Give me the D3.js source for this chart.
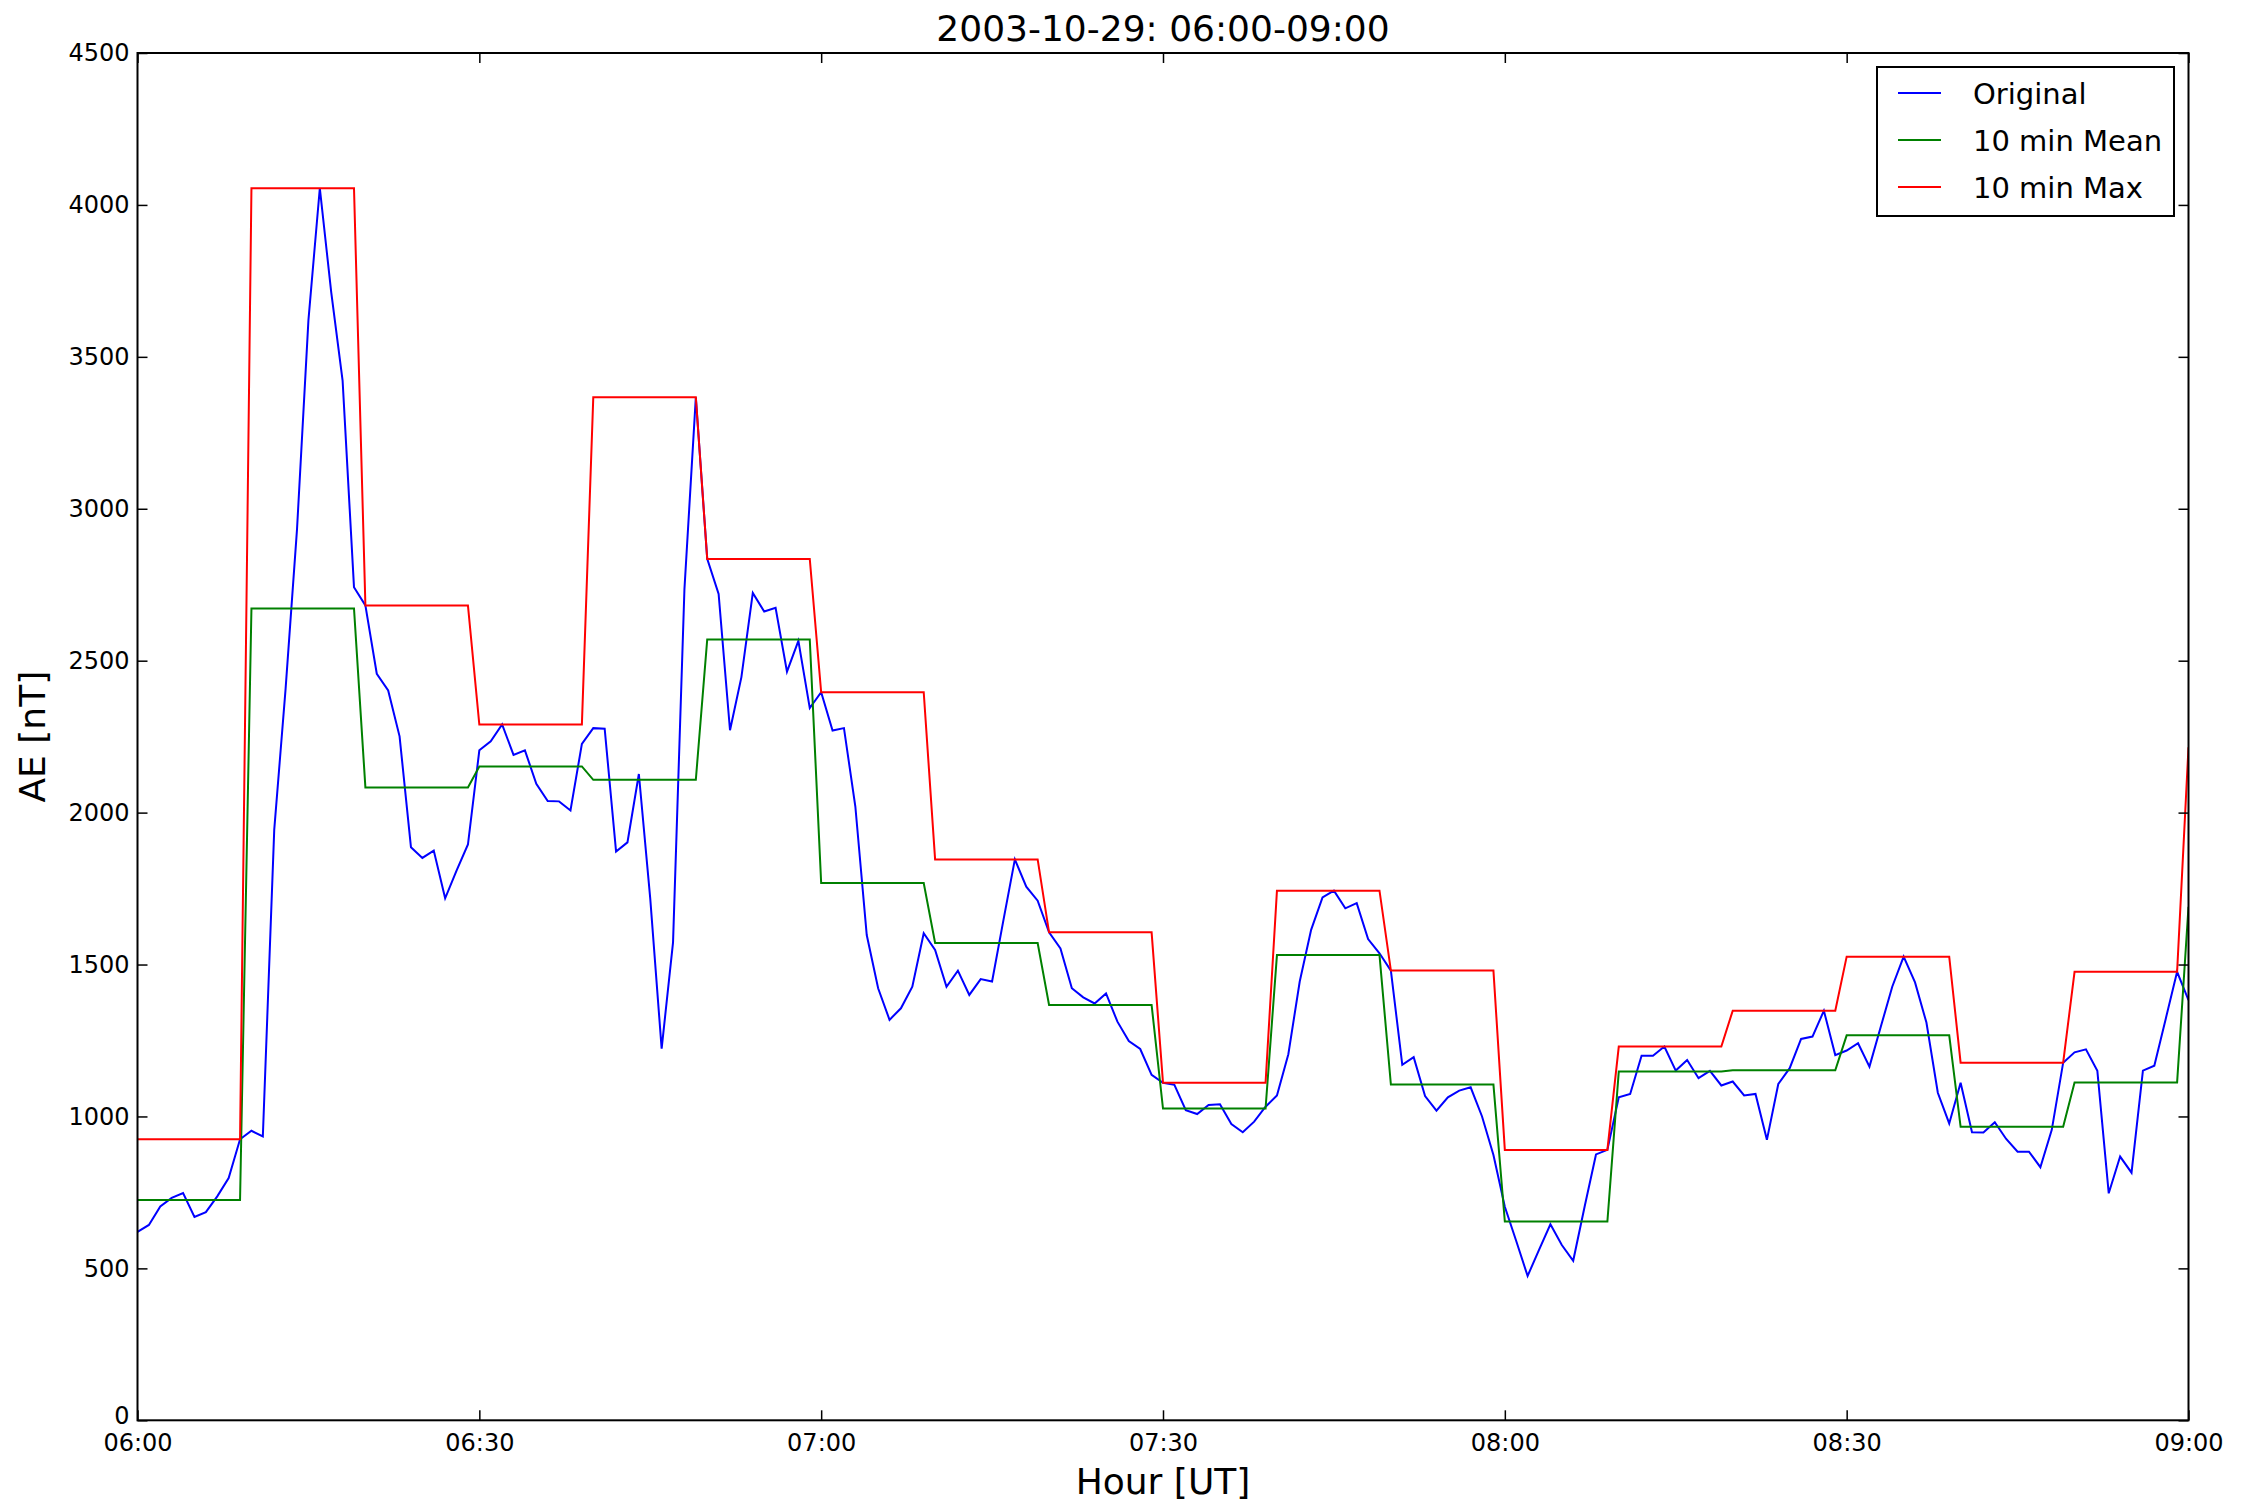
<!DOCTYPE html>
<html>
<head>
<meta charset="utf-8">
<script src="https://cdn.jsdelivr.net/npm/d3@7/dist/d3.min.js"></script>
<style>
  html, body { margin: 0; padding: 0; background: #ffffff; }
  svg { display: block; font-family: "DejaVu Sans", sans-serif; }
</style>
</head>
<body>
<svg id="chart" width="2245" height="1502"></svg>
<script>
// AE index, one sample per minute from 06:00 to 09:00 UT (181 samples)
const aeOriginal = [
  620, 643, 704, 732, 748, 669, 685, 737, 797, 925,
  953, 934, 1943, 2409, 2933, 3620, 4055, 3713, 3422, 2742,
  2682, 2457, 2402, 2251, 1886, 1851, 1875, 1718, 1809, 1895,
  2205, 2235, 2290, 2190, 2205, 2095, 2038, 2037, 2007, 2226,
  2278, 2276, 1872, 1902, 2127, 1717, 1223, 1573, 2735, 3367,
  2835, 2720, 2271, 2446, 2723, 2662, 2674, 2464, 2565, 2344,
  2396, 2270, 2278, 2020, 1597, 1422, 1318, 1356, 1427, 1603,
  1548, 1427, 1480, 1400, 1452, 1444, 1647, 1846, 1756, 1710,
  1606, 1553, 1422, 1392, 1372, 1405, 1312, 1248, 1222, 1137,
  1111, 1104, 1021, 1008, 1038, 1040, 975, 948, 983, 1032,
  1069, 1205, 1444, 1614, 1721, 1743, 1685, 1702, 1584, 1537,
  1480, 1170, 1195, 1067, 1019, 1063, 1085, 1096, 1000, 873,
  703, 590, 475, 561, 645, 577, 525, 703, 875, 890,
  1063, 1074, 1200, 1200, 1230, 1151, 1186, 1126, 1150, 1102,
  1115, 1069, 1074, 923, 1107, 1159, 1255, 1263, 1348, 1202,
  1217, 1241, 1164, 1296, 1427, 1526, 1441, 1309, 1078, 977,
  1111, 948, 947, 981, 926, 884, 884, 833, 956, 1177,
  1211, 1221, 1150, 747, 868, 815, 1151, 1167, 1321, 1476,
  1383
];

// 10-minute window statistics (window k covers minutes 10k .. 10k+9)
const aeMean10 = [725, 2672, 2083, 2152, 2108, 2570, 1768, 1571, 1367, 1026,
                  1531, 1105, 654, 1148, 1152, 1267, 966, 1112, 1690];
const aeMax10  = [925, 4055, 2682, 2290, 3367, 2835, 2396, 1846, 1606, 1111,
                  1743, 1480, 890, 1230, 1348, 1526, 1177, 1476, 2215];

const hourTicks  = [0, 30, 60, 90, 120, 150, 180];
const hourLabels = ["06:00", "06:30", "07:00", "07:30", "08:00", "08:30", "09:00"];
const aeTicks    = [0, 500, 1000, 1500, 2000, 2500, 3000, 3500, 4000, 4500];

const seriesNames  = ["Original", "10 min Mean", "10 min Max"];
const seriesColors = ["#0000ff", "#008000", "#ff0000"];

const svg = d3.select("#chart");
const plot = { left: 137.5, right: 2188.5, top: 53, bottom: 1420.3 };

const x = d3.scaleLinear().domain([0, 180]).range([plot.left, plot.right]);
const y = d3.scaleLinear().domain([0, 4500]).range([plot.bottom, plot.top]);

// expand each window statistic onto the minutes it covers
function windowSeries(values) {
  const pts = [];
  values.forEach((v, k) => {
    for (let m = k * 10; m <= Math.min(k * 10 + 9, 180); m++) pts.push([m, v]);
  });
  return pts;
}

const series = [
  aeOriginal.map((v, m) => [m, v]),
  windowSeries(aeMean10),
  windowSeries(aeMax10)
];

svg.append("defs").append("clipPath").attr("id", "plotClip")
  .append("rect")
  .attr("x", plot.left).attr("y", plot.top)
  .attr("width", plot.right - plot.left).attr("height", plot.bottom - plot.top);

const line = d3.line().x(d => x(d[0])).y(d => y(d[1]));

const lines = svg.append("g").attr("clip-path", "url(#plotClip)");
series.forEach((s, i) => {
  lines.append("path")
    .datum(s)
    .attr("fill", "none")
    .attr("stroke", seriesColors[i])
    .attr("stroke-width", 2)
    .attr("stroke-linejoin", "miter")
    .attr("d", line);
});

// axes with inward ticks on all four sides
const tickLen = 10;
const fmtHour = (d) => hourLabels[hourTicks.indexOf(d)];

const gx = svg.append("g").attr("transform", `translate(0,${plot.bottom})`)
  .call(d3.axisBottom(x).tickValues(hourTicks).tickFormat(fmtHour)
        .tickSizeInner(-tickLen).tickSizeOuter(0).tickPadding(14));
const gxTop = svg.append("g").attr("transform", `translate(0,${plot.top})`)
  .call(d3.axisTop(x).tickValues(hourTicks).tickFormat("")
        .tickSizeInner(-tickLen).tickSizeOuter(0));
const gy = svg.append("g").attr("transform", `translate(${plot.left},0)`)
  .call(d3.axisLeft(y).tickValues(aeTicks).tickFormat(d3.format("d"))
        .tickSizeInner(-tickLen).tickSizeOuter(0).tickPadding(8));
const gyRight = svg.append("g").attr("transform", `translate(${plot.right},0)`)
  .call(d3.axisRight(y).tickValues(aeTicks).tickFormat("")
        .tickSizeInner(-tickLen).tickSizeOuter(0));

[gx, gxTop, gy, gyRight].forEach(g => {
  g.select(".domain").remove();
  g.selectAll(".tick line").attr("stroke", "#000").attr("stroke-width", 1.5);
  g.selectAll(".tick text")
    .attr("fill", "#000")
    .style("font-family", "'DejaVu Sans', sans-serif")
    .style("font-size", "24px");
});
// lift the zero label a little so it clears the hour labels below the corner
gy.selectAll(".tick text").filter(d => d === 0).attr("dy", "0.12em");

// frame
svg.append("rect")
  .attr("x", plot.left).attr("y", plot.top)
  .attr("width", plot.right - plot.left).attr("height", plot.bottom - plot.top)
  .attr("fill", "none").attr("stroke", "#000").attr("stroke-width", 2);

// title and axis labels
const cx = (plot.left + plot.right) / 2;
svg.append("text").attr("x", cx).attr("y", 41)
  .attr("text-anchor", "middle").style("font-size", "36px")
  .text("2003-10-29: 06:00-09:00");

svg.append("text").attr("x", cx).attr("y", 1494)
  .attr("text-anchor", "middle").style("font-size", "36px")
  .text("Hour [UT]");

svg.append("text")
  .attr("transform", `translate(45,${(plot.top + plot.bottom) / 2}) rotate(-90)`)
  .attr("text-anchor", "middle").style("font-size", "36px")
  .text("AE [nT]");

// legend
const legend = svg.append("g");
legend.append("rect")
  .attr("x", 1877).attr("y", 67).attr("width", 297).attr("height", 149)
  .attr("fill", "#fff").attr("stroke", "#000").attr("stroke-width", 2);
seriesNames.forEach((name, i) => {
  const ly = 93 + i * 47;
  legend.append("line")
    .attr("x1", 1898).attr("x2", 1941).attr("y1", ly).attr("y2", ly)
    .attr("stroke", seriesColors[i]).attr("stroke-width", 2);
  legend.append("text")
    .attr("x", 1973).attr("y", ly + 11)
    .style("font-size", "29px")
    .text(name);
});
</script>
</body>
</html>
